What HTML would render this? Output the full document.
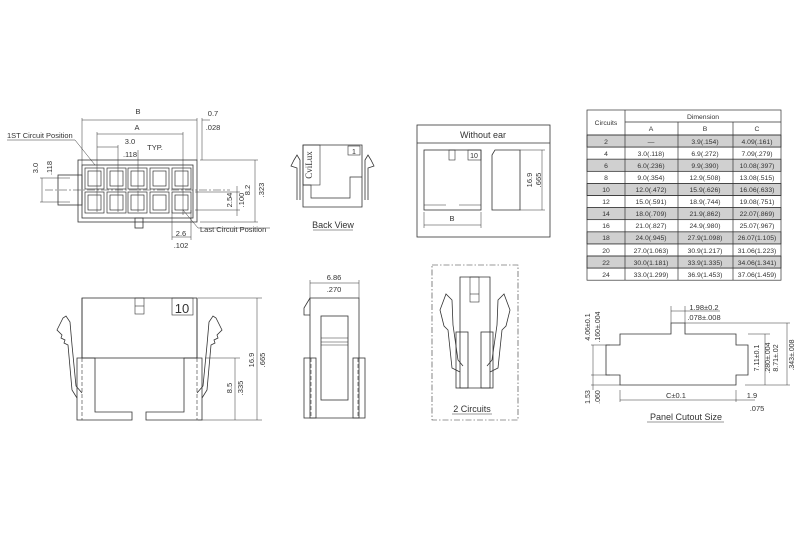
<!DOCTYPE html>
<html><head><meta charset="utf-8"><style>
html,body{margin:0;padding:0;background:#fff;}
svg{display:block;font-family:"Liberation Sans",sans-serif;}
</style></head><body>
<svg width="800" height="534" viewBox="0 0 800 534" xmlns="http://www.w3.org/2000/svg">
<g fill="none" stroke="#333" stroke-width="0.8">
<!-- ===== Top-left front view ===== -->
<rect x="82" y="165" width="111" height="53"/>
<rect x="78" y="160" width="119" height="62"/>
<rect x="58" y="175" width="24" height="30"/>
<rect x="135" y="218" width="8" height="10"/>
<g stroke-width="0.7">
<rect x="85" y="168" width="19" height="21"/><rect x="107" y="168" width="19" height="21"/><rect x="128" y="168" width="19" height="21"/><rect x="150" y="168" width="19" height="21"/><rect x="172" y="168" width="19" height="21"/>
<rect x="85" y="192" width="19" height="21"/><rect x="107" y="192" width="19" height="21"/><rect x="128" y="192" width="19" height="21"/><rect x="150" y="192" width="19" height="21"/><rect x="172" y="192" width="19" height="21"/>
<rect x="88" y="171" width="13" height="15"/><rect x="110" y="171" width="13" height="15"/><rect x="131" y="171" width="13" height="15"/><rect x="153" y="171" width="13" height="15"/><rect x="175" y="171" width="13" height="15"/>
<rect x="88" y="195" width="13" height="15"/><rect x="110" y="195" width="13" height="15"/><rect x="131" y="195" width="13" height="15"/><rect x="153" y="195" width="13" height="15"/><rect x="175" y="195" width="13" height="15"/>
</g>
<g stroke-width="0.5">
<line x1="45" y1="190" x2="230" y2="190" stroke-dasharray="8,2,2,2"/>
<line x1="97" y1="132" x2="97" y2="212"/><line x1="118" y1="145" x2="118" y2="212"/><line x1="138" y1="150" x2="138" y2="212"/><line x1="183" y1="132" x2="183" y2="215"/>
<line x1="82" y1="118" x2="82" y2="165"/><line x1="197" y1="118" x2="197" y2="160"/><line x1="202" y1="118" x2="202" y2="160"/>
<line x1="82" y1="120" x2="197" y2="120"/><line x1="202" y1="120" x2="210" y2="120"/>
<line x1="97" y1="134" x2="183" y2="134"/><line x1="97" y1="147" x2="118" y2="147"/>
<line x1="200" y1="160" x2="258" y2="160"/><line x1="200" y1="222" x2="258" y2="222"/><line x1="255" y1="160" x2="255" y2="222"/>
<line x1="42" y1="178" x2="42" y2="202"/><line x1="40" y1="178" x2="70" y2="178"/><line x1="40" y1="202" x2="70" y2="202"/>
<line x1="195" y1="192" x2="240" y2="192"/><line x1="195" y1="210" x2="240" y2="210"/><line x1="237" y1="186" x2="237" y2="216"/>
<line x1="172" y1="210" x2="172" y2="240"/><line x1="191" y1="210" x2="191" y2="240"/><line x1="172" y1="237" x2="191" y2="237"/>
<line x1="7" y1="140" x2="75" y2="140"/><line x1="75" y1="140" x2="95" y2="165"/>
<line x1="183" y1="210" x2="198" y2="228"/><line x1="198" y1="228" x2="270" y2="228"/>
</g>
<!-- ===== Back View ===== -->
<path d="M303 145 H362 V207 H303 Z"/>
<path d="M303 185 H311 V198 H350 V177 H362" stroke-width="0.7"/>
<rect x="303" y="145" width="17" height="40" stroke-width="0.6"/>
<rect x="348" y="146" width="12" height="9" stroke-width="0.6"/>
<path d="M297 200 V168 L291 166 L294 160 L297 155 L300 160 V200"/>
<path d="M368 200 V168 L374 166 L371 160 L368 155 L365 160 V200"/>
<!-- ===== Without ear box ===== -->
<rect x="417" y="125" width="133" height="112"/>
<line x1="417" y1="143" x2="550" y2="143"/>
<rect x="424" y="150" width="57" height="60"/>
<path d="M424 205 H446 M459 205 H481" stroke-width="0.6"/>
<rect x="449" y="150" width="6" height="10" stroke-width="0.6"/>
<rect x="468" y="150" width="13" height="10" stroke-width="0.6"/>
<path d="M492 210 V155 L495 150 H520 V210 Z"/>
<g stroke-width="0.5">
<line x1="520" y1="150" x2="545" y2="150"/><line x1="520" y1="210" x2="545" y2="210"/><line x1="542" y1="150" x2="542" y2="210"/>
<line x1="424" y1="212" x2="424" y2="228"/><line x1="481" y1="212" x2="481" y2="228"/><line x1="424" y1="225" x2="481" y2="225"/>
</g>
<!-- ===== Bottom-left big view ===== -->
<rect x="82" y="298" width="115" height="60"/>
<path d="M77 358 H95 V412 H132 V420 H77 Z"/>
<path d="M202 358 H184 V412 H146 V420 H202 Z"/>
<path d="M82 358 V298 M197 358 V298"/>
<rect x="135" y="298" width="9" height="16" stroke-width="0.6"/>
<line x1="135" y1="306" x2="144" y2="306" stroke-width="0.6"/>
<rect x="172" y="298" width="21" height="17" stroke-width="0.6"/>
<path d="M82 358 V420 M197 358 V420" stroke-dasharray="4,2" stroke-width="0.6"/>
<path d="M77 398 L72 390 L68 345 L64 343 L65 340 L61 338 L62 335 L57 330 L63 318 L66 316 L70 322 L72 345 L76 386 L82 393"/>
<path d="M202 398 L207 390 L211 345 L215 343 L214 340 L218 338 L217 335 L222 330 L216 318 L213 316 L209 322 L207 345 L203 386 L197 393"/>
<g stroke-width="0.5">
<line x1="198" y1="298" x2="262" y2="298"/><line x1="198" y1="420" x2="262" y2="420"/><line x1="257" y1="298" x2="257" y2="420"/>
<line x1="205" y1="358" x2="240" y2="358"/><line x1="235" y1="358" x2="235" y2="420"/>
</g>
<!-- ===== Side view ===== -->
<path d="M310 298 H359 V418 H310 Z"/>
<path d="M310 298 L304 308 V315 H310"/>
<rect x="321" y="316" width="27" height="84"/>
<path d="M321 338 H348 M321 342 H348 M321 345 H348" stroke-width="0.6"/>
<rect x="304" y="358" width="12" height="60"/>
<rect x="353" y="358" width="12" height="60"/>
<path d="M311 358 V418 M358 358 V418" stroke-dasharray="4,2" stroke-width="0.6"/>
<g stroke-width="0.5">
<line x1="310" y1="280" x2="310" y2="298"/><line x1="359" y1="280" x2="359" y2="298"/><line x1="310" y1="283" x2="359" y2="283"/>
</g>
<!-- ===== 2 Circuits ===== -->
<rect x="432" y="265" width="86" height="155" stroke-dasharray="6,2,1.5,2" stroke-width="0.6"/>
<path d="M460 277 H490 V388 H460 Z"/>
<rect x="470" y="277" width="9" height="25" stroke-width="0.6"/>
<line x1="470" y1="294" x2="479" y2="294" stroke-width="0.6"/>
<rect x="456" y="332" width="12" height="56"/><rect x="481" y="332" width="12" height="56"/>
<path d="M460 372 L452 368 L448 330 L444 326 L440 310 L446 294 L452 300 L453 325 L458 360 L463 366"/>
<path d="M490 372 L498 368 L502 330 L506 326 L510 310 L504 294 L498 300 L497 325 L492 360 L487 366"/>
<!-- ===== Panel Cutout ===== -->
<path d="M620 385 V375 H606 V345 H620 V334 H671 V323 H685 V334 H736 V345 H748 V375 H736 V385 Z"/>
<g stroke-width="0.5">
<line x1="685" y1="323" x2="790" y2="323"/><line x1="748" y1="334" x2="770" y2="334"/><line x1="745" y1="385" x2="790" y2="385"/>
<line x1="787" y1="323" x2="787" y2="385"/><line x1="765" y1="334" x2="765" y2="385"/>
<line x1="591" y1="345" x2="610" y2="345"/><line x1="591" y1="375" x2="610" y2="375"/><line x1="591" y1="385" x2="620" y2="385"/>
<line x1="593" y1="345" x2="593" y2="390"/>
<line x1="671" y1="306" x2="671" y2="323"/><line x1="685" y1="306" x2="685" y2="323"/><line x1="671" y1="311" x2="720" y2="311"/>
<line x1="620" y1="390" x2="620" y2="402"/><line x1="736" y1="390" x2="736" y2="402"/><line x1="620" y1="400" x2="755" y2="400"/>
</g>
<!-- ===== Table ===== -->
<g stroke-width="0.7">
<rect x="587" y="135" width="194" height="12.1" fill="#d0d0d0"/>
<rect x="587" y="159.2" width="194" height="12.1" fill="#d0d0d0"/>
<rect x="587" y="183.4" width="194" height="12.1" fill="#d0d0d0"/>
<rect x="587" y="207.6" width="194" height="12.1" fill="#d0d0d0"/>
<rect x="587" y="231.8" width="194" height="12.1" fill="#d0d0d0"/>
<rect x="587" y="256" width="194" height="12.1" fill="#d0d0d0"/>
<rect x="587" y="110" width="194" height="170.2"/>
<line x1="625" y1="110" x2="625" y2="280"/><line x1="678" y1="122" x2="678" y2="280"/><line x1="733" y1="122" x2="733" y2="280"/>
<line x1="625" y1="122" x2="781" y2="122"/>
<path d="M587 135H781M587 147.1H781M587 159.2H781M587 171.3H781M587 183.4H781M587 195.5H781M587 207.6H781M587 219.7H781M587 231.8H781M587 243.9H781M587 256H781M587 268.1H781"/>
</g>
</g>
<!-- arrowheads approximated -->
<g fill="#333" font-size="7.5" text-anchor="middle">
<text x="138" y="114">B</text>
<text x="213" y="116">0.7</text><text x="213" y="130">.028</text>
<text x="137" y="130">A</text>
<text x="130" y="144">3.0</text><text x="130" y="157">.118</text><text x="155" y="150">TYP.</text>
<text x="7" y="138" text-anchor="start">1ST Circuit Position</text>
<text x="38" y="168" transform="rotate(-90 38 168)">3.0</text>
<text x="52" y="168" transform="rotate(-90 52 168)">.118</text>
<text x="250" y="190" transform="rotate(-90 250 190)">8.2</text>
<text x="264" y="190" transform="rotate(-90 264 190)">.323</text>
<text x="232" y="200" transform="rotate(-90 232 200)">2.54</text>
<text x="244" y="200" transform="rotate(-90 244 200)">.100</text>
<text x="200" y="232" text-anchor="start">Last Circuit Position</text>
<text x="181" y="236">2.6</text><text x="181" y="248">.102</text>
<text x="312" y="165" transform="rotate(-90 312 165)" font-family="Liberation Serif" font-size="9">CviLux</text>
<text x="354" y="154" font-size="7">1</text>
<text x="333" y="228" font-size="9">Back View</text>
<line x1="313" y1="230" x2="353" y2="230" stroke="#333" stroke-width="0.6"/>
<text x="483" y="138" font-size="9">Without ear</text>
<text x="474" y="158" font-size="7">10</text>
<text x="532" y="180" transform="rotate(-90 532 180)">16.9</text>
<text x="541" y="180" transform="rotate(-90 541 180)">.665</text>
<text x="452" y="221">B</text>
<text x="182" y="313" font-size="13" text-anchor="middle">10</text>
<text x="254" y="360" transform="rotate(-90 254 360)">16.9</text>
<text x="265" y="360" transform="rotate(-90 265 360)">.665</text>
<text x="232" y="388" transform="rotate(-90 232 388)">8.5</text>
<text x="243" y="388" transform="rotate(-90 243 388)">.335</text>
<text x="334" y="280">6.86</text><text x="334" y="292">.270</text>
<text x="472" y="412" font-size="9">2 Circuits</text>
<line x1="452" y1="414" x2="492" y2="414" stroke="#333" stroke-width="0.6"/>
<text x="704" y="310">1.98±0.2</text><text x="704" y="320">.078±.008</text>
<text x="590" y="327" transform="rotate(-90 590 327)" font-size="7">4.06±0.1</text>
<text x="600" y="327" transform="rotate(-90 600 327)" font-size="7">.160±.004</text>
<text x="590" y="397" transform="rotate(-90 590 397)" font-size="7">1.53</text>
<text x="600" y="397" transform="rotate(-90 600 397)" font-size="7">.060</text>
<text x="759" y="358" transform="rotate(-90 759 358)" font-size="7">7.11±0.1</text>
<text x="770" y="358" transform="rotate(-90 770 358)" font-size="7">.280±.004</text>
<text x="778" y="358" transform="rotate(-90 778 358)" font-size="7">8.71±.02</text>
<text x="794" y="355" transform="rotate(-90 794 355)" font-size="7">.343±.008</text>
<text x="676" y="398">C±0.1</text>
<text x="752" y="398">1.9</text><text x="757" y="411">.075</text>
<text x="686" y="420" font-size="9">Panel Cutout Size</text>
<line x1="647" y1="422" x2="724" y2="422" stroke="#333" stroke-width="0.6"/>
</g>
<g fill="#333" font-size="6.8" text-anchor="middle">
<text x="606" y="125">Circuits</text>
<text x="703" y="119">Dimension</text>
<text x="651" y="131">A</text><text x="705" y="131">B</text><text x="757" y="131">C</text>
<text x="606" y="144">2</text><text x="651" y="144">—</text><text x="705" y="144">3.9(.154)</text><text x="757" y="144">4.09(.161)</text>
<text x="606" y="156">4</text><text x="651" y="156">3.0(.118)</text><text x="705" y="156">6.9(.272)</text><text x="757" y="156">7.09(.279)</text>
<text x="606" y="168">6</text><text x="651" y="168">6.0(.236)</text><text x="705" y="168">9.9(.390)</text><text x="757" y="168">10.08(.397)</text>
<text x="606" y="180">8</text><text x="651" y="180">9.0(.354)</text><text x="705" y="180">12.9(.508)</text><text x="757" y="180">13.08(.515)</text>
<text x="606" y="192">10</text><text x="651" y="192">12.0(.472)</text><text x="705" y="192">15.9(.626)</text><text x="757" y="192">16.06(.633)</text>
<text x="606" y="204">12</text><text x="651" y="204">15.0(.591)</text><text x="705" y="204">18.9(.744)</text><text x="757" y="204">19.08(.751)</text>
<text x="606" y="216">14</text><text x="651" y="216">18.0(.709)</text><text x="705" y="216">21.9(.862)</text><text x="757" y="216">22.07(.869)</text>
<text x="606" y="228">16</text><text x="651" y="228">21.0(.827)</text><text x="705" y="228">24.9(.980)</text><text x="757" y="228">25.07(.967)</text>
<text x="606" y="240">18</text><text x="651" y="240">24.0(.945)</text><text x="705" y="240">27.9(1.098)</text><text x="757" y="240">26.07(1.105)</text>
<text x="606" y="253">20</text><text x="651" y="253">27.0(1.063)</text><text x="705" y="253">30.9(1.217)</text><text x="757" y="253">31.06(1.223)</text>
<text x="606" y="265">22</text><text x="651" y="265">30.0(1.181)</text><text x="705" y="265">33.9(1.335)</text><text x="757" y="265">34.06(1.341)</text>
<text x="606" y="277">24</text><text x="651" y="277">33.0(1.299)</text><text x="705" y="277">36.9(1.453)</text><text x="757" y="277">37.06(1.459)</text>
</g>
</svg>
</body></html>
